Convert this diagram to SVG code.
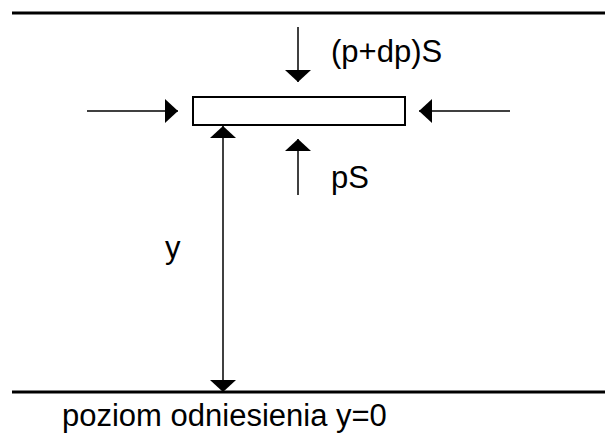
<svg xmlns="http://www.w3.org/2000/svg" width="605" height="433" viewBox="0 0 605 433">
<style>
.lvl{stroke:#000;stroke-width:3;fill:none}
.body{stroke:#000;stroke-width:2;fill:#fff}
.con{stroke:#000;stroke-width:1.5;fill:none}
.v{marker-end:url(#ahv)}
.h{marker-end:url(#ahh)}
.lbl{font-family:"Liberation Sans",Arial,sans-serif;font-size:31px;fill:#000}
</style>
<defs>
<marker id="ahv" markerUnits="userSpaceOnUse" viewBox="0 0 12 26" markerWidth="12" markerHeight="26" refX="12" refY="13" orient="auto-start-reverse">
<path d="M0,0 L12,13 L0,26 z" fill="#000"/>
</marker>
<marker id="ahh" markerUnits="userSpaceOnUse" viewBox="0 0 13 24" markerWidth="13" markerHeight="24" refX="13" refY="12" orient="auto">
<path d="M0,0 L13,12 L0,24 z" fill="#000"/>
</marker>
</defs>
<g id="top-level">
<line class="lvl" x1="12" y1="13" x2="605" y2="13"/>
</g>
<g id="reference-level">
<line class="lvl" x1="12" y1="392" x2="605" y2="392"/>
<text class="lbl" x="62" y="426">poziom odniesienia y=0</text>
</g>
<g id="element">
<rect class="body" x="193" y="97" width="212" height="28"/>
</g>
<g id="connectors">
<line class="con v" x1="298" y1="27" x2="298" y2="82"/>
<line class="con v" x1="298" y1="195" x2="298" y2="139"/>
<line class="con h" x1="87" y1="111" x2="178" y2="111"/>
<line class="con h" x1="510" y1="111" x2="419" y2="111"/>
<line class="con" x1="223" y1="126" x2="223" y2="392" marker-start="url(#ahv)" marker-end="url(#ahv)"/>
</g>
<g id="label-top-force">
<text class="lbl" x="331" y="62">(p+dp)S</text>
</g>
<g id="label-bottom-force">
<text class="lbl" x="331" y="188">pS</text>
</g>
<g id="label-y">
<text class="lbl" x="165" y="258">y</text>
</g>
</svg>
